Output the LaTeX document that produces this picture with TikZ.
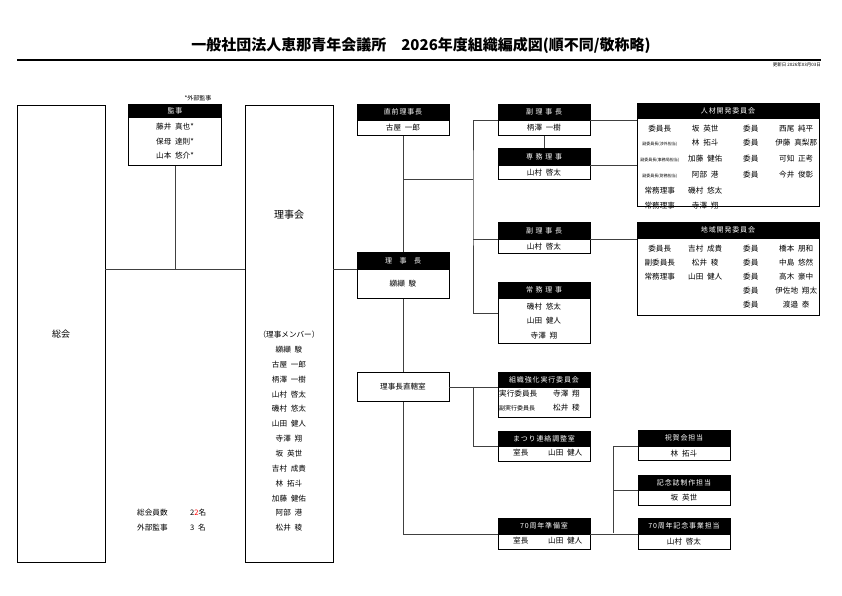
\documentclass[tikz,border=0pt]{standalone}
\usepackage{fontspec}
\setmainfont{Noto Sans CJK JP}
\newfontfamily\nmf{Noto Sans CJK JP}[WordSpace=2.2]
\usetikzlibrary{matrix}
\newcommand\wbox[1]{\makebox[36pt][s]{#1}}
\newcommand\nmfont[2]{\nmf\fontsize{#1}{#2}\selectfont}

\begin{document}
\begin{tikzpicture} [x=1pt, y=-1pt,
  hd/.style={draw, fill=black, text=white, line width=0.9pt, minimum width=92pt, minimum height=15pt, inner sep=0pt, anchor=north, font=\fontsize{7}{8}\selectfont\addfontfeature{LetterSpace=12}},
  bd/.style={draw, line width=0.9pt, minimum width=92pt, minimum height=15pt, inner sep=0pt, anchor=north, align=center, font=\nmfont{7.6}{14.5}},
  tall/.style={draw, line width=0.9pt, minimum width=88pt, minimum height=457pt, inner sep=0pt, anchor=north},
  ln/.style={draw=black!75, line width=0.8pt},
  txt/.style={anchor=west, inner sep=0pt, font=\nmfont{7.6}{8}},
  mem/.style={matrix of nodes, anchor=north, inner sep=0pt, nodes={minimum width=45.5pt, minimum height=14.4pt, inner sep=0pt, font=\nmfont{7.6}{8}}},
  sm/.style={font=\fontsize{4}{5}\selectfont}]
\useasboundingbox (0,0) rectangle (842,595);

% title
\node (title) at (421,45) {\fontsize{15}{16}\selectfont\bfseries 一般社団法人恵那青年会議所　2026年度組織編成図(順不同/敬称略)};
\draw [line width=1.6pt] (17,60) -- (821,60);
\node [anchor=east, inner sep=0pt, font=\fontsize{4.5}{5}\selectfont] (upd) at (821,65) {更新日 2026年03月03日};

% left column
\node [tall] (sokai) at (61,105) {\fontsize{9}{10}\selectfont 総会};
\node [tall] (rikai) at (289,105) {};
\node [font=\fontsize{10}{11}\selectfont] (rk) at (289,215) {理事会};
\node [anchor=north, inner sep=0pt, align=center, font=\nmfont{7.6}{14.85}] (rmem) at (289,331) {（理事メンバー）\\纐纈 駿\\古屋 一郎\\柄澤 一樹\\山村 啓太\\磯村 悠太\\山田 健人\\寺澤 翔\\坂 英世\\吉村 成貴\\林 拓斗\\加藤 健佑\\阿部 港\\松井 稜};
\node [hd, minimum width=93pt, minimum height=12pt] (kan-h) at (175,104) {監事};
\node [bd, minimum width=93pt, minimum height=48pt] (kan-b) at (kan-h.south) {藤井 真也*\\保母 達則*\\山本 悠介*};
\node [anchor=south, inner sep=0pt, font=\fontsize{6}{7}\selectfont] (gai) at (198,101) {*外部監事};
\node [txt] (kin) at (137,513) {総会員数};
\node [txt] (kin-n) at (190,513) {2\textcolor{red}{2}名};
\node [txt] (gai-l) at (137,528) {外部監事};
\node [txt] (gai-n) at (190,528) {3 名};

% middle column
\node [hd] (zen-h) at (403,104) {直前理事長};
\node [bd] (zen-b) at (zen-h.south) {古屋 一郎};
\node [hd, minimum height=16pt] (rj-h) at (403,252) {\wbox{理\hfill 事\hfill 長}};
\node [bd, minimum height=29pt] (rj-b) at (rj-h.south) {纐纈 駿};
\node [bd, minimum height=29pt] (choku) at (403,372) {理事長直轄室};

\node [hd] (fk1-h) at (544,104) {\wbox{副\hfill 理\hfill 事\hfill 長}};
\node [bd] (fk1-b) at (fk1-h.south) {柄澤 一樹};
\node [hd, minimum height=16pt] (sen-h) at (544,148) {\wbox{専\hfill 務\hfill 理\hfill 事}};
\node [bd, minimum height=14pt] (sen-b) at (sen-h.south) {山村 啓太};
\node [hd, minimum height=16pt] (fk2-h) at (544,222) {\wbox{副\hfill 理\hfill 事\hfill 長}};
\node [bd, minimum height=14pt] (fk2-b) at (fk2-h.south) {山村 啓太};
\node [hd] (jo-h) at (544,282) {\wbox{常\hfill 務\hfill 理\hfill 事}};
\node [bd, minimum height=45pt] (jo-b) at (jo-h.south) {磯村 悠太\\山田 健人\\寺澤 翔};
\node [hd, minimum height=14pt] (so-h) at (544,372) {組織強化実行委員会};
\node [bd, minimum height=30pt] (so-b) at (so-h.south) {};
\node [txt] (so1) at (499,394) {実行委員長};
\node [txt] (so2) at (553,394) {寺澤 翔};
\node [txt, font=\fontsize{6}{7}\selectfont] (so3) at (499,408) {副実行委員長};
\node [txt] (so4) at (553,408) {松井 稜};
\node [hd, minimum height=14pt] (ma-h) at (544,431) {まつり連絡調整室};
\node [bd] (ma-b) at (ma-h.south) {};
\node [txt] (ma1) at (513,452.5) {室長};
\node [txt] (ma2) at (548,452.5) {山田 健人};
\node [hd] (na-h) at (544,518) {70周年準備室};
\node [bd] (na-b) at (na-h.south) {};
\node [txt] (na1) at (513,540.5) {室長};
\node [txt] (na2) at (548,540.5) {山田 健人};

% right column
\node [hd] (iw-h) at (684,430) {祝賀会担当};
\node [bd, minimum height=14pt] (iw-b) at (iw-h.south) {林 拓斗};
\node [hd, minimum height=14pt] (ki-h) at (684,475) {記念誌制作担当};
\node [bd] (ki-b) at (ki-h.south) {坂 英世};
\node [hd] (kj-h) at (684,518) {70周年記念事業担当};
\node [bd] (kj-b) at (kj-h.south) {山村 啓太};

\node [hd, minimum width=182pt, minimum height=14pt] (jz-h) at (728,103) {人材開発委員会};
\node [bd, minimum width=182pt, minimum height=88pt] (jz-b) at (jz-h.south) {};
\matrix (jz-m) [mem] at (728,121) {
委員長 & 坂 英世 & 委員 & 西尾 純平 \\
|[sm]| 副委員長(渉外担当) & 林 拓斗 & 委員 & 伊藤 真梨那 \\
|[sm]| 副委員長(事務局担当) & 加藤 健佑 & 委員 & 可知 正考 \\
|[sm]| 副委員長(財務担当) & 阿部 港 & 委員 & 今井 俊彰 \\
常務理事 & 磯村 悠太 & & \\
常務理事 & 寺澤 翔 & & \\
};
\node [hd, minimum width=182pt] (ck-h) at (728,222) {地域開発委員会};
\node [bd, minimum width=182pt, minimum height=77pt] (ck-b) at (ck-h.south) {};
\matrix (ck-m) [mem, nodes={minimum height=14pt}] at (728,241) {
委員長 & 吉村 成貴 & 委員 & 橋本 朋和 \\
副委員長 & 松井 稜 & 委員 & 中島 悠然 \\
常務理事 & 山田 健人 & 委員 & 高木 豪中 \\
& & 委員 & 伊佐地 翔太 \\
& & 委員 & 渡邉 泰 \\
};

% connectors
\coordinate (bus) at (473,179);
\coordinate (bus2) at (613,533);
\draw [ln] (sokai.east |- rj-h.south) -- (rikai.west |- rj-h.south);
\draw [ln] (kan-b.south) -- (kan-b.south |- rj-h.south);
\draw [ln] (rikai.east |- rj-h.south) -- (rj-h.south west);
\draw [ln] (zen-b.south) -- (rj-h.north);
\draw [ln] (zen-b.south |- bus) -- (bus);
\draw [ln] (fk1-h.south west) -| (bus) |- ([yshift=7pt]jo-b.west);
\draw [ln] (fk2-h.south west) -- (fk2-h.south west -| bus);
\draw [ln] (fk1-b.south) -- (sen-h.north);
\draw [ln] (fk1-h.south east) -- (fk1-h.south east -| jz-b.west);
\draw [ln] (sen-h.south east) -- (sen-h.south east -| jz-b.west);
\draw [ln] (fk2-h.south east) -- (fk2-h.south east -| ck-b.west);
\draw [ln] (rj-b.south) -- (choku.north);
\draw [ln] (choku.south) |- (na-h.south west);
\draw [ln] (choku.east) -- (choku.east -| so-h.west);
\draw [ln] (choku.east -| bus) |- (ma-h.south west);
\draw [ln] (na-h.south east) -- (kj-h.south west);
\draw [ln] (bus2) |- (iw-h.south west);
\draw [ln] (bus2 |- ki-h.south) -- (ki-h.south west);
\end{tikzpicture}
\end{document}
